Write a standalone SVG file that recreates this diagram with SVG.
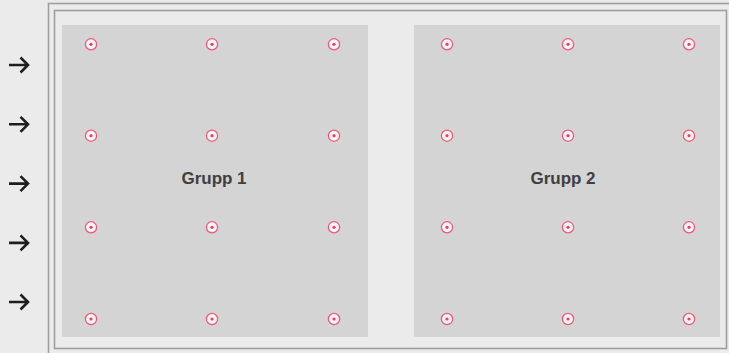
<svg xmlns="http://www.w3.org/2000/svg" width="729" height="353" viewBox="0 0 729 353">
<defs>
<style>
.frame{fill:none;stroke:#9e9e9e;stroke-width:1.6}
.panel{fill:#d4d4d4}
.o{fill:#f7f4f5;stroke:#f2577a;stroke-width:1.3}
.i{fill:#ea3f66}
.arr{fill:none;stroke:#1e1e1e;stroke-width:2.6;stroke-linecap:butt}
.lbl{font-family:"Liberation Sans",Arial,sans-serif;font-weight:bold;font-size:17px;fill:#3f3f3f;text-anchor:middle}
</style>
<g id="p"><circle class="o" r="5.6"/><circle class="i" r="1.6"/></g>
<g id="a"><path d="M9 0H28M20.5 -7.5L28 0L20.5 7.5"/></g>
</defs>
<rect width="729" height="353" fill="#ebebeb"/>
<rect class="frame" x="48.5" y="3.5" width="690" height="360"/>
<rect class="frame" x="54.5" y="10.5" width="672" height="338"/>
<g id="connectors" class="arr">
<use href="#a" y="65"/>
<use href="#a" y="124.3"/>
<use href="#a" y="183.6"/>
<use href="#a" y="242.9"/>
<use href="#a" y="302"/>
</g>
<g id="group1">
<rect class="panel" x="62" y="25" width="306" height="312"/>
<text class="lbl" x="214" y="183.5">Grupp 1</text>
<g class="pt">
<use href="#p" x="91" y="44.3"/><use href="#p" x="212" y="44.3"/><use href="#p" x="334" y="44.3"/>
<use href="#p" x="91" y="135.7"/><use href="#p" x="212" y="135.7"/><use href="#p" x="334" y="135.7"/>
<use href="#p" x="91" y="227.3"/><use href="#p" x="212" y="227.3"/><use href="#p" x="334" y="227.3"/>
<use href="#p" x="91" y="319"/><use href="#p" x="212" y="319"/><use href="#p" x="334" y="319"/>
</g>
</g>
<g id="group2">
<rect class="panel" x="414" y="25" width="306" height="312"/>
<text class="lbl" x="563" y="183.5">Grupp 2</text>
<g class="pt">
<use href="#p" x="447" y="44.3"/><use href="#p" x="568" y="44.3"/><use href="#p" x="689" y="44.3"/>
<use href="#p" x="447" y="135.7"/><use href="#p" x="568" y="135.7"/><use href="#p" x="689" y="135.7"/>
<use href="#p" x="447" y="227.3"/><use href="#p" x="568" y="227.3"/><use href="#p" x="689" y="227.3"/>
<use href="#p" x="447" y="319"/><use href="#p" x="568" y="319"/><use href="#p" x="689" y="319"/>
</g>
</g>
</svg>
